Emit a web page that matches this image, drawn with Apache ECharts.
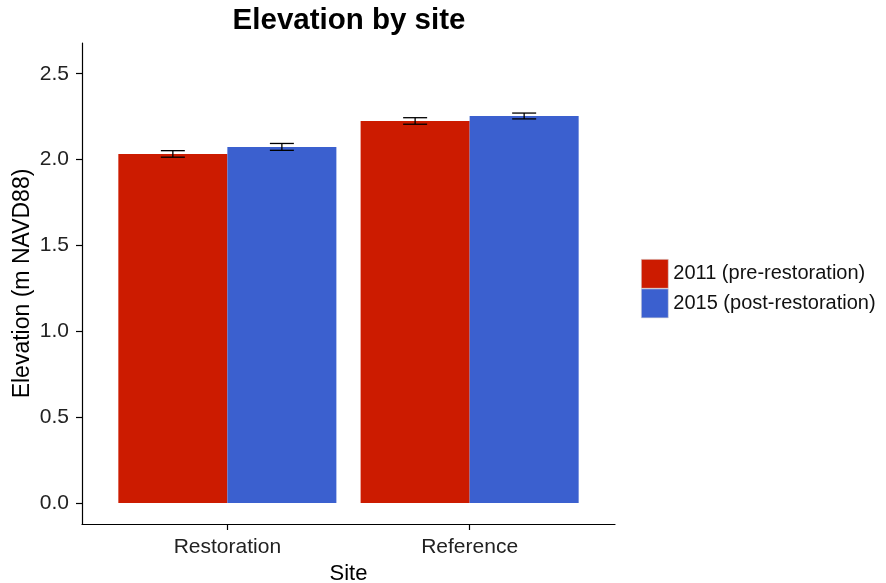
<!DOCTYPE html>
<html>
<head>
<meta charset="utf-8">
<script src="https://cdn.jsdelivr.net/npm/echarts@6/dist/echarts.min.js"></script>
<style>html,body{margin:0;padding:0;background:#fff}#c{width:886px;height:583px}</style>
</head>
<body>
<div id="c"></div>
<script>
const categories = ['Restoration', 'Reference'];
const seriesNames = ['2011 (pre-restoration)', '2015 (post-restoration)'];
const values2011 = [2.033, 2.225];
const values2015 = [2.074, 2.254];
const err2011 = [0.019, 0.019];
const err2015 = [0.020, 0.017];
const yTicks = [0, 0.5, 1.0, 1.5, 2.0, 2.5];
const colors = ['#CC1B00', '#3B60CF'];

const FONT = '"Liberation Sans", Arial, Helvetica, sans-serif';
const yMin = -0.122, yMax = 2.679;
const catPos = categories.map((c, i) => i + 1);   // discrete positions 1, 2
const BAR_W = 0.45;                                 // each bar is 0.45 of a unit (dodge width 0.9)

function barSeries(name, vals, errs, idx, color) {
  return {
    name: name, type: 'custom', data: vals.map((v, i) => [catPos[i], v, errs[i]]),
    itemStyle: { color: color },
    renderItem: function (params, api) {
      const p = api.value(0), v = api.value(1), e = api.value(2);
      const x0 = p - BAR_W + idx * BAR_W;
      const tl = api.coord([x0, v]);
      const br = api.coord([x0 + BAR_W, 0]);
      const cx = api.coord([x0 + BAR_W / 2, v])[0];
      const yT = api.coord([p, v + e])[1];
      const yB = api.coord([p, v - e])[1];
      const hw = 12;
      const st = { stroke: '#000', lineWidth: 1.3 };
      return { type: 'group', children: [
        { type: 'rect', shape: { x: tl[0], y: tl[1], width: br[0] - tl[0], height: br[1] - tl[1] },
          style: { fill: color } },
        { type: 'line', z2: 5, shape: { x1: cx, y1: yT, x2: cx, y2: yB }, style: st },
        { type: 'line', z2: 5, shape: { x1: cx - hw, y1: yT, x2: cx + hw, y2: yT }, style: st },
        { type: 'line', z2: 5, shape: { x1: cx - hw, y1: yB, x2: cx + hw, y2: yB }, style: st }
      ] };
    }
  };
}

const chart = echarts.init(document.getElementById('c'));
chart.setOption({
  animation: false,
  backgroundColor: '#fff',
  title: {
    text: 'Elevation by site',
    left: 349, top: 6, padding: 0, textAlign: 'center',
    textStyle: { fontFamily: FONT, fontSize: 29.5, fontWeight: 'bold', color: '#000' }
  },
  legend: {
    data: seriesNames,
    orient: 'vertical', left: 641, top: 259, padding: 0,
    itemWidth: 27, itemHeight: 29, itemGap: 0, icon: 'rect',
    itemStyle: { borderColor: '#d8d8d8', borderWidth: 0.6 },
    textStyle: { fontFamily: FONT, fontSize: 20, color: '#111' }
  },
  grid: { left: 82, right: 271, top: 43, bottom: 59, containLabel: false, outerBoundsMode: 'none' },
  xAxis: {
    type: 'value', min: 0.4, max: 2.6,
    axisLine: { show: true, onZero: false, lineStyle: { color: '#000', width: 1.2 } },
    axisTick: { show: true, customValues: catPos, length: 6, lineStyle: { color: '#000', width: 1.2 } },
    axisLabel: { customValues: catPos, margin: 13, fontFamily: FONT, fontSize: 21, color: '#222',
      formatter: v => categories[Math.round(v) - 1] },
    splitLine: { show: false },
    name: 'Site', nameLocation: 'middle', nameGap: 39,
    nameTextStyle: { fontFamily: FONT, fontSize: 22, color: '#000' }
  },
  yAxis: {
    type: 'value', min: yMin, max: yMax,
    axisLine: { show: true, onZero: false, lineStyle: { color: '#000', width: 1.2 } },
    axisTick: { show: true, customValues: yTicks, length: 6, lineStyle: { color: '#000', width: 1.2 } },
    axisLabel: { customValues: yTicks, margin: 13, fontFamily: FONT, fontSize: 21, color: '#222',
      formatter: v => v.toFixed(1) },
    splitLine: { show: false },
    name: 'Elevation (m NAVD88)', nameLocation: 'middle', nameGap: 48, nameMoveOverlap: false,
    nameTextStyle: { fontFamily: FONT, fontSize: 23, color: '#000' }
  },
  series: [
    barSeries(seriesNames[0], values2011, err2011, 0, colors[0]),
    barSeries(seriesNames[1], values2015, err2015, 1, colors[1])
  ]
});
</script>
</body>
</html>
